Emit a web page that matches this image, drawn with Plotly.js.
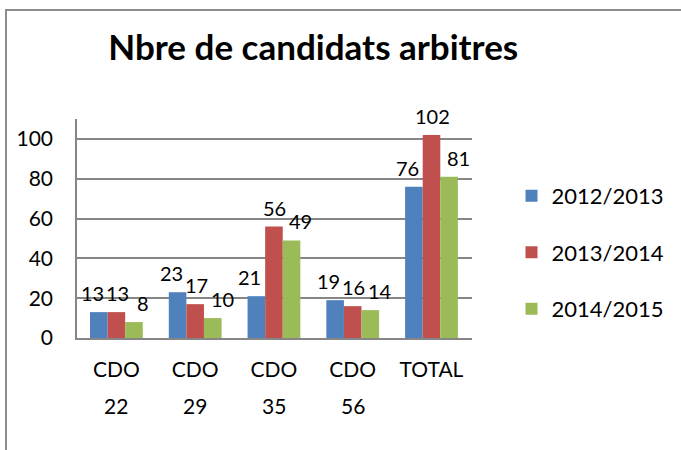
<!DOCTYPE html>
<html><head><meta charset="utf-8">
<script src="https://cdn.plot.ly/plotly-3.0.1.min.js"></script>
<style>body{margin:0;}#wrap{position:relative;width:681px;height:450px;overflow:hidden;}#frame{position:absolute;left:5px;top:9px;width:700px;height:500px;border:2px solid #8c8c8c;pointer-events:none;}</style>
</head><body><div id="wrap"><div id="chart" style="width:681px;height:450px;"></div><div id="frame"></div></div>
<script>
const categories = ["CDO 22", "CDO 29", "CDO 35", "CDO 56", "TOTAL"];
const labelLine1 = ["CDO", "CDO", "CDO", "CDO", "TOTAL"];
const labelLine2 = ["22", "29", "35", "56", ""];
const s2012 = [13, 23, 21, 19, 76];
const s2013 = [13, 17, 56, 16, 102];
const s2014 = [8, 10, 49, 14, 81];
const names = ["2012/2013", "2013/2014", "2014/2015"];
const colors = ["#4f81bd", "#c0504d", "#9bbb59"];
const series = [s2012, s2013, s2014];
const font = "Lato, 'Open Sans', sans-serif";
const barOffset = [-18, 0, 18];
const labelNudge = [-6, 1, 9];
const traces = series.map((s, i) => ({
  type: "bar", x: categories, y: s, name: names[i], legendgroup: "g" + i,
  marker: {color: colors[i]}, hoverinfo: "y"
}));
const annotations = [];
series.forEach((s, i) => s.forEach((v, j) => annotations.push({
  x: categories[j], y: v, xref: "x", yref: "y", text: String(v), showarrow: false,
  xanchor: "center", yanchor: "bottom", xshift: barOffset[i] + labelNudge[i], yshift: 5,
  font: {size: 20, family: font, color: "#000"}
})));
categories.forEach((c, j) => {
  if (labelLine2[j]) annotations.push({
    x: c, y: 0, xref: "x", yref: "y", text: labelLine2[j], showarrow: false,
    xanchor: "center", yanchor: "middle", yshift: -67,
    font: {size: 21, family: font, color: "#000"}
  });
});
const layout = {
  width: 681, height: 450,
  margin: {l: 77, r: 199, t: 119, b: 112},
  paper_bgcolor: "#fff", plot_bgcolor: "#fff",
  barmode: "group", bargap: 0.33, bargroupgap: 0,
  title: {text: "<b>Nbre de candidats arbitres</b>", x: 0.46, xanchor: "center", y: 0.895, yanchor: "middle", font: {size: 35, family: font, color: "#000"}},
  xaxis: {tickvals: categories, ticktext: labelLine1, tickfont: {size: 21, family: font, color: "#000"}, showline: true, linecolor: "#868686", linewidth: 2, ticks: "", showgrid: false, ticklabelstandoff: 12},
  yaxis: {range: [0, 110], tickvals: [0, 20, 40, 60, 80, 100], showgrid: true, gridcolor: "#868686", gridwidth: 1.5, showline: true, linecolor: "#868686", linewidth: 1.5, zeroline: false, ticks: "", tickfont: {size: 21, family: font, color: "#000"}, ticklabelstandoff: 18},
  legend: {x: 1.1, y: 0.745, xanchor: "left", yanchor: "top", font: {size: 22, family: font, color: "#000"}, tracegroupgap: 25, traceorder: "grouped"},
  annotations: annotations,
  showlegend: true
};
Plotly.newPlot("chart", traces, layout, {displayModeBar: false});
</script></body></html>
